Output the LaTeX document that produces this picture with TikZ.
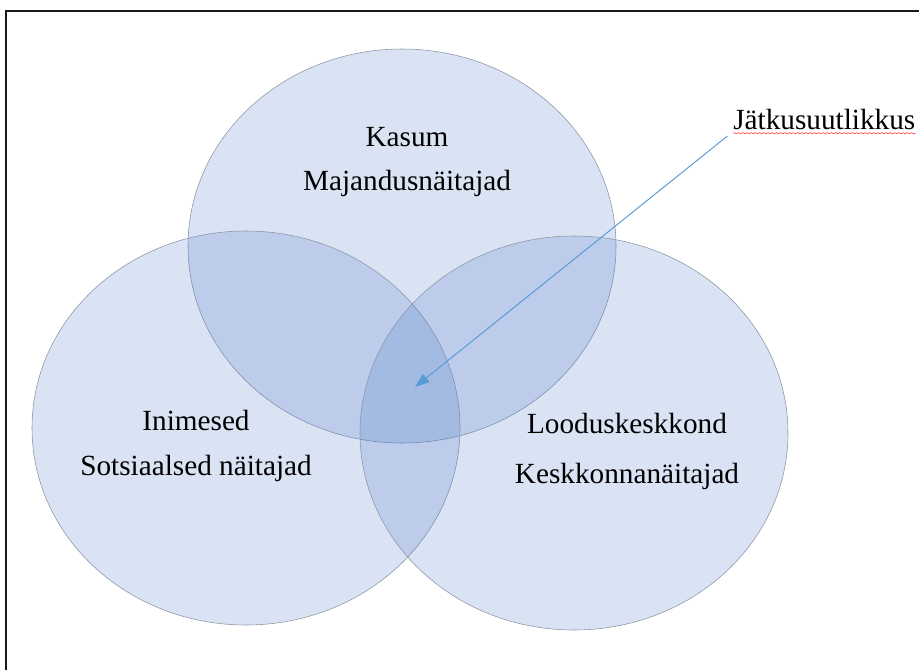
\documentclass[tikz,border=0pt]{standalone}
\usepackage{fontspec}
\setmainfont{Liberation Serif}
\usetikzlibrary{arrows.meta, decorations.pathmorphing}
\usepackage{xcolor}
\definecolor{vennfill}{RGB}{68,114,196}
\definecolor{venndraw}{RGB}{140,150,165}
\definecolor{arrowblue}{RGB}{91,155,213}

\begin{document}
\begin{tikzpicture}[x=0.025cm, y=-0.025cm,
    venn/.style={draw=venndraw, line width=0.4pt, fill=vennfill, fill opacity=0.2},
    lbl/.style={font=\fontsize{20.8}{25}\selectfont, inner sep=0pt, anchor=base}]
  \useasboundingbox (0,0) rectangle (919,670);
  % frame, only the left and top edges show
  \draw[line width=1.6pt, black!90] (6,670) -- (6,11) -- (919,11);

  % the three circles
  \draw[venn] (402,246) ellipse [x radius=214, y radius=197];
  \draw[venn] (246,428) ellipse [x radius=214, y radius=197];
  \draw[venn] (574,433) ellipse [x radius=214, y radius=197];

  % texts inside the circles
  \node[lbl] (kasum) at (407,146) {Kasum};
  \node[lbl] (majandus) at (407,190) {Majandusnäitajad};
  \node[lbl] (inimesed) at (196,430) {Inimesed};
  \node[lbl] (sotsiaal) at (196,475) {Sotsiaalsed näitajad};
  \node[lbl] (loodus) at (627,433) {Looduskeskkond};
  \node[lbl] (keskkond) at (627,483) {Keskkonnanäitajad};

  % label with the arrow into the middle
  \node[lbl, anchor=base west] (jatk) at (733,129) {Jätkusuutlikkus};
  \draw[red!80, line width=0.4pt, decorate, decoration={snake, amplitude=0.45pt, segment length=3pt}]
    ([yshift=-3pt]jatk.base west) -- ([yshift=-3pt]jatk.base east);
  \coordinate (tip) at (415,387);
  \draw[arrowblue, line width=0.7pt, -{Triangle[length=3.6mm, width=2.6mm]}]
    ([xshift=-4pt,yshift=-5pt]jatk.base west) -- (tip);
\end{tikzpicture}
\end{document}
